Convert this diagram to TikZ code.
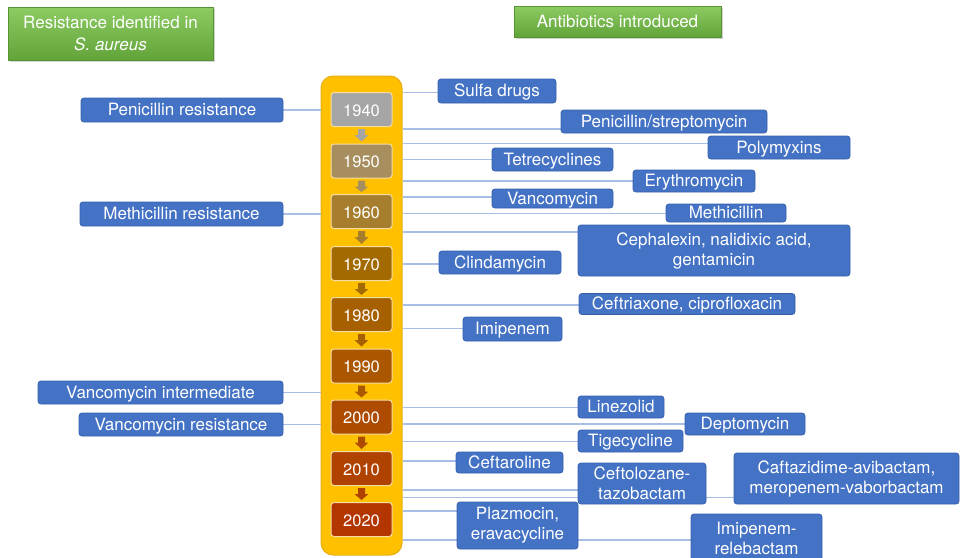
\documentclass[tikz,border=0pt]{standalone}
\usepackage{fontspec}
\setmainfont{TeX Gyre Heros}
\usetikzlibrary{calc,shadows}
\definecolor{boxblue}{HTML}{4472C4}
\definecolor{boxedge}{HTML}{3560AE}
\definecolor{lineblue}{HTML}{A8BEE6}
\definecolor{colfill}{HTML}{FFC000}
\definecolor{coledge}{HTML}{E8AE10}
\definecolor{yredge}{HTML}{F6DDA2}
\definecolor{gtop}{HTML}{8CCB62}
\definecolor{gbot}{HTML}{62A43A}
\definecolor{ya}{HTML}{A5A5A5}
\definecolor{yb}{HTML}{A68E5E}
\definecolor{yc}{HTML}{A67E2E}
\definecolor{yd}{HTML}{A36A02}
\definecolor{ye}{HTML}{A76000}
\definecolor{yf}{HTML}{AA5700}
\definecolor{yg}{HTML}{AD4C00}
\definecolor{yh}{HTML}{B04200}
\definecolor{yi}{HTML}{B33500}
\pgfdeclarelayer{bg}
\pgfdeclarelayer{ln}
\pgfsetlayers{bg,ln,main}
\newcommand\yrarrow[3]{%
  \fill[#3] ($(#1.south)+(-3.5,2)$) -- ($(#1.south)+(3.5,2)$) -- ($(#1.south)+(3.5,8)$)
    -- ($(#1.south)+(7,8)$) -- ($(#2.north)+(0,-2)$) -- ($(#1.south)+(-7,8)$)
    -- ($(#1.south)+(-3.5,8)$) -- cycle;}
\tikzset{
  bbox/.style={draw=boxedge, fill=boxblue, rounded corners=3pt, line width=0.8pt,
    text=white, inner sep=0pt, font=\fontsize{17}{20}\selectfont},
  one/.style={text height=12.2pt, text depth=0.8pt},
  multi/.style={align=center},
  yrbox/.style={draw=yredge, line width=1pt, rounded corners=3pt, minimum width=61,
    minimum height=34, text=white, inner sep=0pt, font=\fontsize{16.5}{20}\selectfont,
    text height=13pt, text depth=0pt},
  conn/.style={draw=lineblue, line width=1.3pt},
  gbox/.style={top color=gtop, bottom color=gbot, draw=gbot!90!black, line width=0.5pt,
    text=white, inner sep=0pt, align=center, font=\fontsize{17}{22}\selectfont,
    drop shadow={shadow xshift=1.5pt, shadow yshift=-2pt, opacity=0.35}},
  colbox/.style={fill=colfill, draw=coledge, line width=1pt, rounded corners=12pt,
    minimum width=81, minimum height=479, inner sep=0pt}
}
\begin{document}
\begin{tikzpicture}[x=1pt,y=-1pt]
\useasboundingbox (0,0) rectangle (960,557);
% headers
\node[gbox, minimum width=205, minimum height=53] (gl) at (110.5,33.5)
  {Resistance identified in\\\textit{S. aureus}};
\node[gbox, minimum width=207, minimum height=31, text height=12.2pt, text depth=0.8pt]
  (gr) at (617.5,21.5) {Antibiotics introduced};
% column
\begin{pgfonlayer}{bg}
\node[colbox] (col) at (361.5,315.5) {};
\end{pgfonlayer}
% years
\node[yrbox, fill=ya] (y1) at (361.5,109.5) {1940};
\node[yrbox, fill=yb] (y2) at (361.5,161) {1950};
\node[yrbox, fill=yc] (y3) at (361.5,211.5) {1960};
\node[yrbox, fill=yd] (y4) at (361.5,263.5) {1970};
\node[yrbox, fill=ye] (y5) at (361.5,314.5) {1980};
\node[yrbox, fill=yf] (y6) at (361.5,366) {1990};
\node[yrbox, fill=yg] (y7) at (361.5,417) {2000};
\node[yrbox, fill=yh] (y8) at (361.5,468.5) {2010};
\node[yrbox, fill=yi] (y9) at (361.5,519.5) {2020};
\yrarrow{y1}{y2}{ya}
\yrarrow{y2}{y3}{yb}
\yrarrow{y3}{y4}{yc}
\yrarrow{y4}{y5}{yd}
\yrarrow{y5}{y6}{ye}
\yrarrow{y6}{y7}{yf}
\yrarrow{y7}{y8}{yg}
\yrarrow{y8}{y9}{yh}
% left boxes
\node[bbox,one,minimum width=202,minimum height=24] (lpen) at (182,110) {Penicillin resistance};
\node[bbox,one,minimum width=203,minimum height=24] (lmeth) at (181.5,214) {Methicillin resistance};
\node[bbox,one,minimum width=245,minimum height=23] (lvint) at (160.5,392.5) {Vancomycin intermediate};
\node[bbox,one,minimum width=204,minimum height=23] (lvres) at (181,424.5) {Vancomycin resistance};
% right boxes
\node[bbox,one,minimum width=118,minimum height=24] (sulfa) at (497,91) {Sulfa drugs};
\node[bbox,one,minimum width=206,minimum height=23] (penstr) at (664,121.5) {Penicillin/streptomycin};
\node[bbox,one,minimum width=142,minimum height=23] (polym) at (779,147.5) {Polymyxins};
\node[bbox,one,minimum width=121,minimum height=23] (tetra) at (552.5,159.5) {Tetrecyclines};
\node[bbox,one,minimum width=122,minimum height=22] (ery) at (694,181) {Erythromycin};
\node[bbox,one,minimum width=121,minimum height=19] (vanco) at (552.5,198.5) {Vancomycin};
\node[bbox,one,minimum width=120,minimum height=18] (meth) at (726,213) {Methicillin};
\node[bbox,multi,minimum width=272,minimum height=51] (ceph) at (714,250.5) {Cephalexin, nalidixic acid,\\gentamicin};
\node[bbox,one,minimum width=122,minimum height=23] (clinda) at (500,262.5) {Clindamycin};
\node[bbox,one,minimum width=216,minimum height=21] (ceftri) at (687,304) {Ceftriaxone, ciprofloxacin};
\node[bbox,one,minimum width=99,minimum height=24] (imip) at (512.5,329) {Imipenem};
\node[bbox,one,minimum width=86,minimum height=22] (linez) at (621,407) {Linezolid};
\node[bbox,one,minimum width=120,minimum height=22] (depto) at (745,424) {Deptomycin};
\node[bbox,one,minimum width=105,minimum height=22] (tige) at (630.5,441) {Tigecycline};
\node[bbox,one,minimum width=107,minimum height=21] (ceftar) at (509.5,462.5) {Ceftaroline};
\node[bbox,multi,minimum width=128,minimum height=41] (ceftol) at (642,483.5) {Ceftolozane-\\tazobactam};
\node[bbox,multi,minimum width=225,minimum height=51] (cafta) at (846.5,478.5) {Caftazidime-avibactam,\\meropenem-vaborbactam};
\node[bbox,multi,minimum width=121,minimum height=47] (plaz) at (517.5,525.5) {Plazmocin,\\eravacycline};
\node[bbox,multi,minimum width=131,minimum height=48] (imirel) at (756.5,538) {Imipenem-\\relebactam};
% connectors
\begin{pgfonlayer}{ln}
\draw[conn] (lpen.east) -- (col.west |- lpen.east);
\draw[conn] (lmeth.east) -- (col.west |- lmeth.east);
\draw[conn] (lvint.east) -- (col.west |- lvint.east);
\draw[conn] (lvres.east) -- (col.west |- lvres.east);
\draw[conn] (col.east |- 0,92.5) -- (sulfa.west |- 0,92.5);
\draw[conn] (col.east |- 0,129) -- (penstr.west |- 0,129);
\draw[conn] (col.east |- 0,143.5) -- (polym.west |- 0,143.5);
\draw[conn] (col.east |- 0,159.5) -- (tetra.west |- 0,159.5);
\draw[conn] (col.east |- 0,181) -- (ery.west |- 0,181);
\draw[conn] (col.east |- 0,197) -- (vanco.west |- 0,197);
\draw[conn] (col.east |- 0,213.3) -- (meth.west |- 0,213.3);
\draw[conn] (col.east |- 0,232) -- (ceph.west |- 0,232);
\draw[conn] (col.east |- 0,264) -- (clinda.west |- 0,264);
\draw[conn] (col.east |- 0,305) -- (ceftri.west |- 0,305);
\draw[conn] (col.east |- 0,328.5) -- (imip.west |- 0,328.5);
\draw[conn] (col.east |- 0,407.7) -- (linez.west |- 0,407.7);
\draw[conn] (col.east |- 0,424) -- (depto.west |- 0,424);
\draw[conn] (col.east |- 0,441.7) -- (tige.west |- 0,441.7);
\draw[conn] (col.east |- 0,461) -- (ceftar.west |- 0,461);
\draw[conn] (col.east |- 0,490) -- (ceftol.west |- 0,490);
\draw[conn] (col.east |- 0,497.3) -- (cafta.west |- 0,497.3);
\draw[conn] (col.east |- 0,511) -- (plaz.west |- 0,511);
\draw[conn] (col.east |- 0,540) -- (imirel.west |- 0,540);
\end{pgfonlayer}
\end{tikzpicture}
\end{document}
